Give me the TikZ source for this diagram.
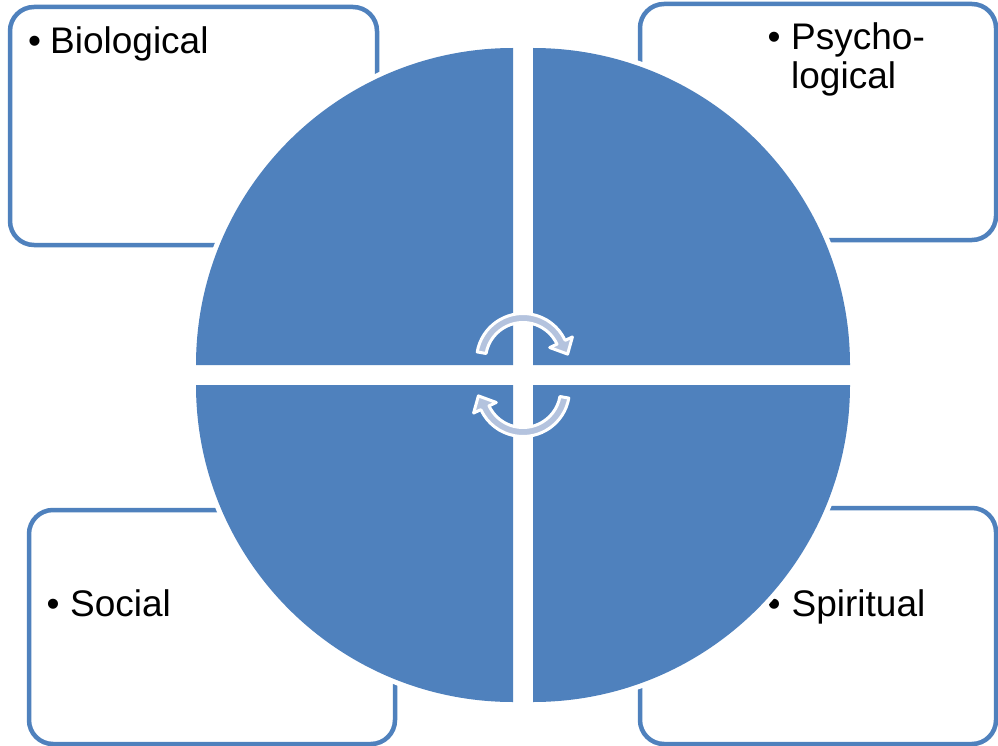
\documentclass[tikz,border=0pt]{standalone}
\usepackage{fontspec}
\setmainfont{Liberation Sans}
\usetikzlibrary{calc}
\definecolor{qblue}{HTML}{4F81BD}
\definecolor{arrowfill}{HTML}{B4C3DE}
\begin{document}
\begin{tikzpicture}[x=1pt,y=-1pt,
  panel/.style={draw=qblue, line width=4.5pt, fill=white, rounded corners=24pt},
  txt/.style={anchor=base west, inner sep=0pt, font=\fontsize{37}{39}\selectfont, align=left},
  halo/.style={draw=white, line width=10pt},
  quad/.style={fill=qblue},
  cyc/.style={fill=arrowfill, draw=white, line width=3pt, line join=round}]
\useasboundingbox (0,0) rectangle (998,746);
\fill[white] (0,0) rectangle (998,746);
% boxes
\draw[panel] (10,7) rectangle (377,245);
\draw[panel] (640,4) rectangle (996,240);
\draw[panel] (29,510) rectangle (395,744);
\draw[panel] (640,508) rectangle (996,744);
% labels
\node[txt] (bio) at (28,53.3) {\makebox[22pt][l]{•}Biological};
\node[txt] (psy) at (767.5,89) {\makebox[23.5pt][l]{•}Psycho-\\\hspace*{23.5pt}logical};
\node[txt] (soc) at (46.5,616) {\makebox[23.5pt][l]{•}Social};
\node[txt] (spi) at (767.5,616) {\makebox[24pt][l]{•}Spiritual};
% quadrant corners
\coordinate (qtl) at (513,365);
\coordinate (qtr) at (533,365);
\coordinate (qbr) at (533,385);
\coordinate (qbl) at (513,385);
% halos
\draw[halo] (qtl) -- ++(180:317) arc[start angle=180,end angle=270,radius=317] -- cycle;
\draw[halo] (qtr) -- ++(270:317) arc[start angle=270,end angle=360,radius=317] -- cycle;
\draw[halo] (qbr) -- ++(0:317) arc[start angle=0,end angle=90,radius=317] -- cycle;
\draw[halo] (qbl) -- ++(90:317) arc[start angle=90,end angle=180,radius=317] -- cycle;
% quadrants
\fill[quad] (qtl) -- ++(180:317) arc[start angle=180,end angle=270,radius=317] -- cycle;
\fill[quad] (qtr) -- ++(270:317) arc[start angle=270,end angle=360,radius=317] -- cycle;
\fill[quad] (qbr) -- ++(0:317) arc[start angle=0,end angle=90,radius=317] -- cycle;
\fill[quad] (qbl) -- ++(90:317) arc[start angle=90,end angle=180,radius=317] -- cycle;
% circular arrows
\coordinate (c1) at (523,360);
\coordinate (c2) at (523,390);
\draw[cyc] ($(c1)+(190:46.5)$) arc[start angle=190,end angle=335,radius=46.5]
  -- ($(c1)+(335:54.5)$) -- ($(c1)+(352.5:45)$) -- ($(c1)+(335:29.5)$)
  -- ($(c1)+(335:37.5)$) arc[start angle=335,end angle=190,radius=37.5] -- cycle;
\draw[cyc] ($(c2)+(10:46.5)$) arc[start angle=10,end angle=155,radius=46.5]
  -- ($(c2)+(155:54.5)$) -- ($(c2)+(172.5:45)$) -- ($(c2)+(155:29.5)$)
  -- ($(c2)+(155:37.5)$) arc[start angle=155,end angle=10,radius=37.5] -- cycle;
\end{tikzpicture}
\end{document}
